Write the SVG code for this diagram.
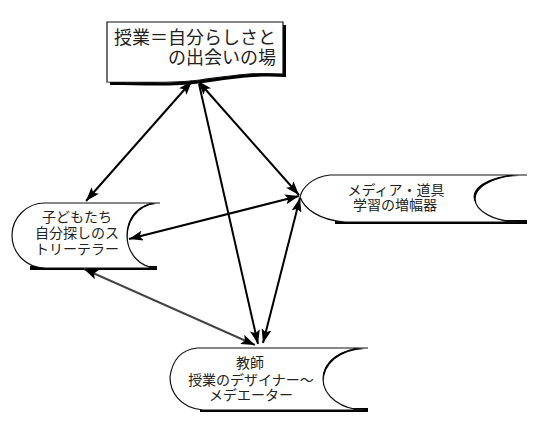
<svg xmlns="http://www.w3.org/2000/svg" width="538" height="426" viewBox="0 0 538 426">
<style>
.lbl{font-family:"Noto Sans CJK JP","Noto Sans",sans-serif;fill:#222;}
.n{font-size:14px;}
.t{font-size:18px;}
.shape{fill:#fff;stroke:#111;stroke-width:1.2;}
.shadow{fill:#000;}
.c{stroke:#000;stroke-width:2;fill:none;marker-end:url(#ah);}
.d{marker-start:url(#ah);}
</style>
<defs>
<marker id="ah" markerUnits="userSpaceOnUse" markerWidth="15" markerHeight="10" refX="14" refY="5" orient="auto-start-reverse">
<path d="M0,0 L14,5 L0,10 L3,5 z" fill="#000"/>
</marker>
</defs>
<rect width="538" height="426" fill="#fff"/>

<g id="node-top">
<path class="shadow" d="M110,25 H286 V77 C253,75 233,79 203,83 C173,87 143,85 110,85 Z"/>
<path class="shape" d="M107,22 H283 V74 C250,72 230,76 200,80 C170,84 140,82 107,82 Z"/>
<text class="lbl t"><tspan x="114" y="44">授業＝自分らしさと</tspan><tspan x="276" y="64" text-anchor="end">の出会いの場</tspan></text>
</g>

<g id="node-children">
<path class="shadow" d="M30,266 H157 V270 H30 Z"/>
<path class="shape" d="M45,203 H160 M157,203 A30 32.5 0 0 0 157,268 H45 A33 32.5 0 0 1 45,203"/>
<path class="shadow" d="M156,204 A30 32.5 0 0 0 128,242 A26 30 0 0 1 156,204 Z"/>
<text class="lbl n" text-anchor="middle"><tspan x="77" y="222">子どもたち</tspan><tspan x="77" y="238">自分探しのス</tspan><tspan x="77" y="254">トリーテラー</tspan></text>
</g>

<g id="node-media">
<path class="shadow" d="M335,220 H527 V224 H335 Z"/>
<path class="shape" d="M330,175 H527 M520,175 A45 23.5 0 0 0 520,222 H345 C318,220 304,208 300,197 C302,188 312,177 330,175"/>
<path class="shadow" d="M519,176 A45 23.5 0 0 0 476,204 A40 21 0 0 1 519,176 Z"/>
<text class="lbl n" text-anchor="middle"><tspan x="396" y="195">メディア・道具</tspan><tspan x="395" y="210">学習の増幅器</tspan></text>
</g>

<g id="node-teacher">
<path class="shadow" d="M200,408 H368 V412 H200 Z"/>
<path class="shape" d="M197,348 H368 M365,348 A42 31 0 0 0 365,410 H203 C180,408 170,392 170,377 C172,362 180,350 197,348"/>
<path class="shadow" d="M364,349 A42 31 0 0 0 324,382 A37 28 0 0 1 364,349 Z"/>
<text class="lbl n" text-anchor="middle"><tspan x="250" y="368">教師</tspan><tspan x="251" y="385">授業のデザイナー～</tspan><tspan x="251" y="400">メデエーター</tspan></text>
</g>

<g id="connectors">
<line class="c d" x1="192" y1="81" x2="86" y2="201"/>
<line class="c d" x1="198" y1="81" x2="299" y2="195"/>
<line x1="199" y1="84" x2="258" y2="344" class="c"/>
<line class="c d" x1="299" y1="196" x2="129" y2="239"/>
<line class="c d" x1="300" y1="198" x2="263" y2="343"/>
<line class="c d" x1="84" y1="269" x2="255" y2="345" style="stroke:#444"/>
</g>
</svg>
